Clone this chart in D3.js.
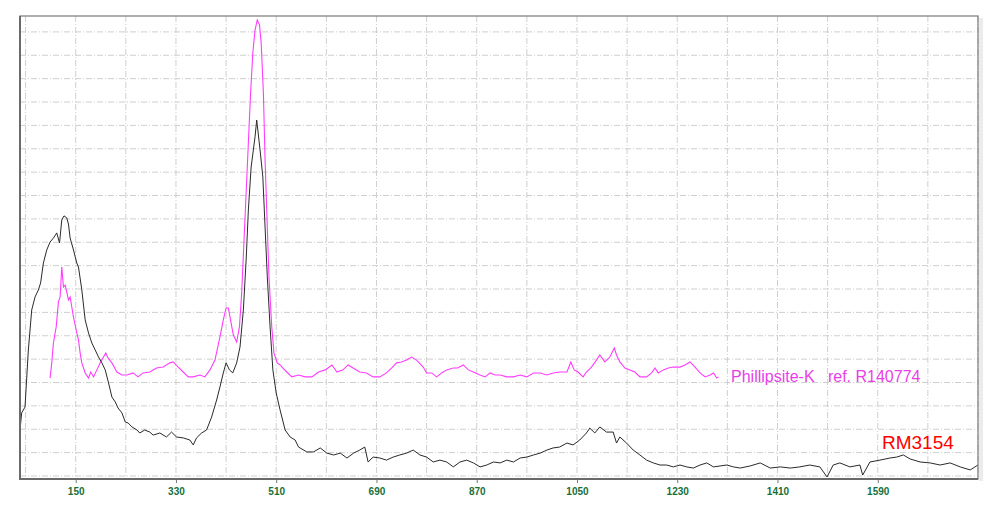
<!DOCTYPE html>
<html><head><meta charset="utf-8">
<script src="https://cdn.jsdelivr.net/npm/d3@7"></script>
<style>html,body{margin:0;padding:0;background:#fff;}svg{display:block;}</style>
</head><body>
<svg id="c" width="1000" height="509"></svg>
<script>
// Raman shift (cm-1) and intensity (arbitrary units, 1 unit = 1 grid step)
const sampleX = [50,53,59,65,71,77,83,87,92,98,104,110,116,121,125,129,134,137,140,146,152,155,161,167,173,179,185,191,197,203,209,215,221,226,233,239,244,251,260,265,274,283,289,301,313,322,331,343,355,361,367,376,385,394,403,409,415,420,426,432,439,445,451,456,460,465,469,472,475,478,481,486,490,494,499,504,510,517,526,535,544,550,565,577,589,601,613,625,637,649,660,669,675,684,696,708,720,732,744,756,768,780,792,804,816,828,840,852,864,876,888,900,912,924,936,948,960,972,984,996,1007,1019,1032,1043,1055,1067,1073,1082,1091,1103,1115,1121,1127,1139,1151,1163,1175,1187,1199,1211,1223,1235,1247,1259,1271,1283,1295,1307,1319,1331,1343,1361,1379,1397,1415,1433,1450,1468,1486,1499,1510,1522,1540,1558,1563,1576,1594,1612,1624,1636,1648,1666,1684,1702,1720,1738,1756,1770];
const sampleY = [1.97,2.70,2.95,5.39,7.10,7.66,7.96,8.26,9.11,9.67,10.01,10.18,10.40,9.97,10.95,11.13,11.04,10.78,10.18,9.67,9.11,8.94,7.96,6.68,6.12,5.69,5.39,5.09,4.84,4.54,3.98,3.38,3.17,2.91,2.70,2.31,2.27,2.10,1.97,1.84,1.97,1.88,1.75,1.84,1.67,1.88,1.67,1.63,1.54,1.33,1.63,1.84,1.97,2.52,3.25,3.81,4.41,4.84,4.54,4.41,4.84,5.52,7.10,9.24,11.38,13.22,13.95,14.51,15.23,14.59,13.95,12.79,10.65,8.52,6.38,4.54,3.55,2.82,1.97,1.67,1.54,1.24,1.03,1.03,1.20,0.98,0.90,0.98,0.77,0.98,1.11,1.24,0.60,0.81,0.77,0.68,0.81,0.90,0.98,1.11,0.90,0.81,0.60,0.68,0.60,0.39,0.60,0.68,0.56,0.39,0.47,0.60,0.56,0.68,0.60,0.77,0.81,0.90,0.98,1.11,1.20,1.24,1.41,1.33,1.54,1.84,2.05,1.84,2.10,1.88,1.88,1.41,1.67,1.41,1.11,0.90,0.68,0.56,0.47,0.47,0.39,0.47,0.39,0.34,0.47,0.56,0.39,0.43,0.47,0.39,0.34,0.43,0.56,0.34,0.39,0.34,0.39,0.47,0.39,-0.04,0.47,0.56,0.39,0.47,0.04,0.60,0.68,0.77,0.81,0.90,0.73,0.60,0.56,0.47,0.56,0.39,0.26,0.47];

const refX = [104,107,110,115,119,122,125,128,131,134,137,140,143,146,149,152,155,158,161,167,173,177,182,188,194,200,204,208,215,224,233,242,253,262,271,283,295,307,319,325,334,343,352,361,373,382,391,400,409,415,420,424,428,433,439,444,448,452,456,460,464,468,472,476,480,483,487,490,494,497,502,506,512,517,522,529,538,550,562,574,586,598,610,619,630,639,648,660,672,684,696,708,717,726,735,744,753,762,774,780,789,798,807,816,828,836,846,855,864,876,885,894,903,912,924,936,948,960,972,984,996,1007,1019,1032,1039,1045,1052,1061,1067,1076,1085,1091,1100,1109,1117,1121,1127,1136,1145,1154,1163,1175,1184,1190,1196,1205,1214,1223,1235,1244,1253,1262,1271,1280,1289,1295,1301,1304];
const refY = [4.19,4.84,5.69,6.38,7.45,7.66,8.94,8.09,8.17,7.87,7.53,7.66,7.23,6.80,6.46,6.12,5.82,5.26,4.84,4.41,4.19,4.45,4.24,4.54,4.84,5.09,5.26,5.05,4.84,4.45,4.32,4.32,4.41,4.24,4.41,4.45,4.62,4.66,4.84,4.88,4.66,4.45,4.24,4.24,4.32,4.24,4.54,4.96,5.95,6.68,7.19,7.19,6.68,6.03,5.73,6.38,7.83,9.97,12.11,14.25,16.39,18.10,19.08,19.51,19.30,18.53,16.39,13.52,10.65,8.52,6.38,5.26,4.84,4.75,4.62,4.45,4.24,4.32,4.24,4.24,4.45,4.54,4.75,4.45,4.54,4.75,4.62,4.45,4.41,4.24,4.24,4.41,4.62,4.84,4.88,4.96,5.09,4.96,4.66,4.41,4.41,4.24,4.41,4.54,4.62,4.62,4.75,4.54,4.45,4.32,4.24,4.41,4.32,4.32,4.24,4.24,4.32,4.24,4.41,4.41,4.32,4.41,4.45,4.45,4.88,4.54,4.45,4.24,4.45,4.66,4.96,5.18,4.88,5.09,5.48,5.18,4.88,4.62,4.54,4.45,4.24,4.24,4.41,4.62,4.41,4.54,4.62,4.66,4.66,4.75,4.88,4.66,4.41,4.24,4.32,4.41,4.19,4.24];

const tickLabels = [150,330,510,690,870,1050,1230,1410,1590];
const gridX = [60,150,240,330,420,510,600,690,780,870,960,1050,1140,1230,1320,1410,1500,1590,1680,1770];
const gridY = [0,1,2,3,4,5,6,7,8,9,10,11,12,13,14,15,16,17,18,19];
const sampleName = "RM3154";
const refName = "Phillipsite-K   ref. R140774";

const svg = d3.select("#c");
const L = 20, R = 978, T = 16, B = 479;
const x = d3.scaleLinear().domain([50, 1770]).range([L, R]);
const y = d3.scaleLinear().domain([-0.128, 19.68]).range([B, T]);

// shadow at right of frame
svg.append("rect").attr("x", R + 1).attr("y", T + 2).attr("width", 4).attr("height", B - T).attr("fill", "#ececec");

// grid
const g = svg.append("g");
g.selectAll("line.gx").data(gridX).join("line")
  .attr("x1", d => x(d)).attr("x2", d => x(d)).attr("y1", T).attr("y2", B)
  .attr("stroke", "#cfcfcf").attr("stroke-width", 1).attr("stroke-dasharray", "6,2,1,2");
g.selectAll("line.gy").data(gridY).join("line")
  .attr("x1", L).attr("x2", R).attr("y1", d => y(d)).attr("y2", d => y(d))
  .attr("stroke", "#cfcfcf").attr("stroke-width", 1).attr("stroke-dasharray", "6,2,1,2");

// axis
const axis = d3.axisBottom(x).tickValues(tickLabels).tickSize(4).tickSizeOuter(0).tickPadding(5).tickFormat(d3.format("d"));
const ax = svg.append("g").attr("transform", `translate(0,${B})`).call(axis);
ax.select(".domain").remove();
ax.selectAll(".tick line").attr("stroke", "#777");
ax.selectAll(".tick text").attr("fill", "#16703a").attr("font-family", "Liberation Sans, Arial, sans-serif")
  .attr("font-size", 10).attr("font-weight", "bold");

// lines
const clip = svg.append("clipPath").attr("id", "cp").append("rect").attr("x", L).attr("y", T - 2).attr("width", R - L).attr("height", B - T + 2);
const line = d3.line().x(d => x(d[0])).y(d => y(d[1]));
const sample = sampleX.map((v, i) => [v, sampleY[i]]);
const ref = refX.map((v, i) => [v, refY[i]]);
svg.append("path").datum(ref).attr("d", line).attr("fill", "none").attr("stroke", "#ff3dff").attr("stroke-width", 1.1).attr("clip-path", "url(#cp)");
svg.append("path").datum(sample).attr("d", line).attr("fill", "none").attr("stroke", "#2a2a2a").attr("stroke-width", 1).attr("clip-path", "url(#cp)");

// frame
svg.append("rect").attr("x", L).attr("y", T).attr("width", R - L).attr("height", B - T)
  .attr("fill", "none").attr("stroke", "#7a7a7a").attr("stroke-width", 1.2);
svg.append("line").attr("x1", L).attr("x2", L).attr("y1", T).attr("y2", B + 1).attr("stroke", "#6a6a6a").attr("stroke-width", 2);
svg.append("line").attr("x1", L).attr("x2", R).attr("y1", B).attr("y2", B).attr("stroke", "#6a6a6a").attr("stroke-width", 2);

// labels
svg.append("text").attr("x", 731).attr("y", 382).attr("fill", "#e83ee8")
  .attr("font-family", "Liberation Sans, Arial, sans-serif").attr("font-size", 16).attr("xml:space", "preserve")
  .style("white-space", "pre").text(refName);
svg.append("text").attr("x", 882).attr("y", 449).attr("fill", "#ff0000")
  .attr("font-family", "Liberation Sans, Arial, sans-serif").attr("font-size", 19).text(sampleName);
</script>
</body></html>
